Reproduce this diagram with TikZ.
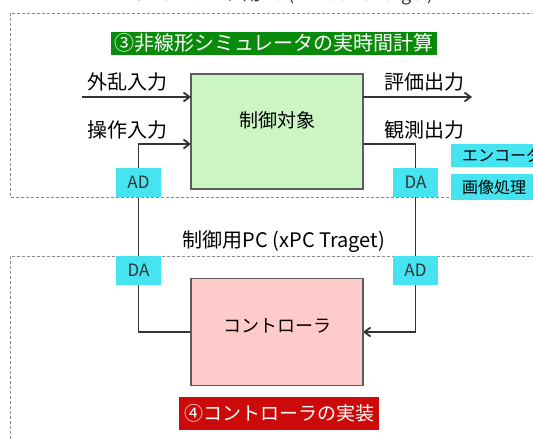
\documentclass[tikz,border=0pt]{standalone}
\usepackage{fontspec}
\setmainfont{Noto Sans CJK JP}
\usetikzlibrary{arrows.meta}
\pgfdeclarelayer{bg}
\pgfsetlayers{bg,main}
\definecolor{plantgreen}{HTML}{CCF5C4}
\definecolor{ctrlpink}{HTML}{FFCACA}
\definecolor{cyanbox}{HTML}{46E3F0}
\definecolor{titlegreen}{HTML}{0A8A0A}
\definecolor{titlered}{HTML}{CC0A0A}
\definecolor{linegray}{HTML}{333333}
\definecolor{dashgray}{HTML}{8A8A8A}
\newcommand{\fs}[1]{\fontsize{#1pt}{#1pt}\selectfont}
\tikzset{
  every node/.style={inner sep=0pt, outer sep=0pt},
  blockbox/.style={draw=linegray!80, line width=1.3pt, minimum width=172pt, text=black},
  convbox/.style={fill=cyanbox, minimum width=45pt, minimum height=29pt, text=linegray, font=\fs{17}},
  sidebox/.style={fill=cyanbox, minimum width=100pt, text width=78pt, align=left, text=black, font=\fs{16}},
  lbl/.style={text=black, font=\fs{20}},
  sig/.style={draw=linegray, line width=1.8pt},
  arr/.style={sig, -{Straight Barb[length=6pt, width=9pt, line width=1.8pt]}},
  region/.style={draw=dashgray, line width=1pt, dash pattern=on 3pt off 2pt},
  titlebox/.style={text=white, minimum height=23pt, font=\fs{20}}
}
\begin{document}
\begin{tikzpicture}[x=1pt, y=-1pt]
\useasboundingbox (0,0) rectangle (533,439);
\clip (0,0) rectangle (533,439);
% partially visible heading at top
\node[lbl, anchor=base, font=\fs{18}, text=linegray] (toptext) at (285,0.5) {シミュレータ用PC (Windows Target)};
% regions
\draw[region] (540,13) -- (10,13) -- (10,197) -- (540,197);
\draw[region] (540,256) -- (10,256) -- (10,445);
% titles
\node[titlebox, fill=titlegreen, minimum width=326pt] (t3) at (274,43) {③非線形シミュレータの実時間計算};
\node[titlebox, fill=titlered, minimum width=200pt, minimum height=33pt, font=\fs{19}] (t4) at (279,413.5) {④コントローラの実装};
% blocks
\node[blockbox, fill=plantgreen, minimum height=115pt, font=\fs{19}] (plant) at (277,131.5) {\raisebox{24pt}{制御対象}};
\node[blockbox, fill=ctrlpink, minimum height=107pt, font=\fs{18}] (ctrl) at (277,332) {\raisebox{12pt}{コントローラ}};
% converters
\node[convbox] (adL) at (138.5,182.5) {AD};
\node[convbox] (daR) at (415.5,182.5) {DA};
\node[convbox] (daL) at (138.5,270.5) {DA};
\node[convbox] (adR) at (415.5,270.5) {AD};
% side boxes
\node[sidebox, minimum height=23pt, anchor=west] (enc) at (451,155.5) {エンコーダ};
\node[sidebox, minimum height=26pt, anchor=west] (img) at (451,187) {画像処理};
% labels
\node[lbl] (l1) at (127,82) {外乱入力};
\node[lbl] (l2) at (127,130) {操作入力};
\node[lbl] (l3) at (424,82) {評価出力};
\node[lbl] (l4) at (424,130) {観測出力};
\node[lbl, font=\fs{20}] (pc) at (284,242) {制御用PC (xPC Traget)};
% connectors
\coordinate (din) at (82,97);
\coordinate (eout) at (472,97);
\draw[arr] (din) -- ([yshift=34.5pt]plant.west);
\draw[arr] ([yshift=34.5pt]plant.east) -- (eout);
\begin{pgfonlayer}{bg}
\draw[arr] (ctrl.west) -| (daL.south) -- (adL.north) |- ([yshift=-12.5pt]plant.west);
\draw[arr] ([yshift=-12.5pt]plant.east) -| (daR.north) -- (adR.south) |- (ctrl.east);
\end{pgfonlayer}
\end{tikzpicture}
\end{document}
